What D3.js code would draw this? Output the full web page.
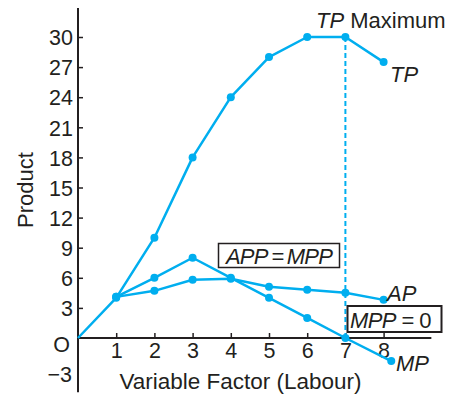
<!DOCTYPE html>
<html>
<head>
<meta charset="utf-8">
<script src="https://cdn.jsdelivr.net/npm/d3@7"></script>
<style>
  html, body { margin: 0; padding: 0; background: #fff; }
  svg { display: block; font-family: "Liberation Sans", Arial, Helvetica, sans-serif; }
</style>
</head>
<body>
<svg id="chart" width="458" height="394"></svg>
<script>
// ---- data ----
const labour = [0, 1, 2, 3, 4, 5, 6, 7, 8];
const tpValues = [0, 4, 10, 18, 24, 28, 30, 30, 27.5];
const apLabour = [1, 2, 3, 4, 5, 6, 7, 8];
const apValues = [4.1, 4.7, 5.8, 5.9, 5.1, 4.8, 4.5, 3.8];
const mpLabour = [1, 2, 3, 4, 5, 6, 7, 8.2];
const mpValues = [4.1, 6, 8, 6, 4, 2, 0, -2.3];
const yTickValues = [3, 6, 9, 12, 15, 18, 21, 24, 27, 30];
const xTickValues = [1, 2, 3, 4, 5, 6, 7, 8];

const blue = "#00aeef";
const ink = "#231f20";
const fs = 21.5;

const svg = d3.select("#chart");
const x = d3.scaleLinear().domain([0, 8]).range([78, 383.6]);
const y = d3.scaleLinear().domain([0, 30]).range([338, 37]);

// axes
const yAxis = d3.axisLeft(y).tickValues(yTickValues).tickSize(-5).tickPadding(7).tickFormat(d3.format("d"));
const gy = svg.append("g").attr("transform", `translate(${x(0)},0)`).call(yAxis);
gy.select(".domain").remove();
gy.selectAll("line").attr("stroke", ink).attr("stroke-width", 1.5);
gy.selectAll("text").attr("fill", ink).attr("font-size", fs).attr("dx", 2).attr("dy", "0.36em");

const xAxis = d3.axisBottom(x).tickValues(xTickValues).tickSize(-5).tickPadding(7);
const gx = svg.append("g").attr("transform", `translate(0,${y(0)})`).call(xAxis);
gx.select(".domain").remove();
gx.selectAll("line").attr("stroke", ink).attr("stroke-width", 1.5);
gx.selectAll("text").attr("fill", ink).attr("font-size", fs).attr("dy", "0.6em");

// axis lines
svg.append("line").attr("x1", x(0)).attr("x2", x(0)).attr("y1", y(32.9)).attr("y2", y(-5.4))
  .attr("stroke", ink).attr("stroke-width", 2);
svg.append("line").attr("x1", x(0)).attr("x2", x(9.25)).attr("y1", y(0)).attr("y2", y(0))
  .attr("stroke", ink).attr("stroke-width", 2);

// origin and -3 labels
svg.append("text").attr("x", x(0) - 8).attr("y", y(0) + 14).attr("text-anchor", "end")
  .attr("font-size", fs).attr("fill", ink).text("O");
svg.append("text").attr("x", x(0) - 6).attr("y", y(-3) + 14).attr("text-anchor", "end")
  .attr("font-size", fs).attr("fill", ink).text("\u22123");

// axis titles
svg.append("text").attr("transform", `translate(33,${190}) rotate(-90)`).attr("text-anchor", "middle")
  .attr("font-size", 22).attr("fill", ink).text("Product");
svg.append("text").attr("x", 240.5).attr("y", 389).attr("text-anchor", "middle")
  .attr("font-size", 22.5).attr("fill", ink).text("Variable Factor (Labour)");

// dashed line at TP maximum
svg.append("line").attr("x1", x(7)).attr("x2", x(7)).attr("y1", y(30)).attr("y2", y(0))
  .attr("stroke", blue).attr("stroke-width", 2).attr("stroke-dasharray", "5,3");

// series
const line = d3.line().x(d => x(d[0])).y(d => y(d[1]));
function drawSeries(xs, ys) {
  const pts = xs.map((v, i) => [v, ys[i]]);
  svg.append("path").datum(pts).attr("d", line).attr("fill", "none")
    .attr("stroke", blue).attr("stroke-width", 2.5).attr("stroke-linejoin", "round");
  svg.append("g").selectAll("circle").data(pts.filter(p => !(p[0] === 0 && p[1] === 0))).join("circle")
    .attr("cx", d => x(d[0])).attr("cy", d => y(d[1])).attr("r", 4).attr("fill", blue);
}
drawSeries(labour, tpValues);
drawSeries(apLabour, apValues);
drawSeries(mpLabour, mpValues);

// annotations
const t1 = svg.append("text").attr("x", 316).attr("y", 28).attr("font-size", 22).attr("fill", ink);
t1.append("tspan").attr("font-style", "italic").text("TP");
t1.append("tspan").text(" Maximum");

svg.append("text").attr("x", 390).attr("y", 82).attr("font-size", 22).attr("fill", ink)
  .attr("font-style", "italic").text("TP");
svg.append("text").attr("x", 387).attr("y", 301).attr("font-size", 22).attr("fill", ink)
  .attr("font-style", "italic").text("AP");
svg.append("text").attr("x", 396).attr("y", 371).attr("font-size", 22).attr("fill", ink)
  .attr("font-style", "italic").text("MP");

// APP = MPP box
svg.append("rect").attr("x", 218.5).attr("y", 243.5).attr("width", 121).attr("height", 24)
  .attr("fill", "#fff").attr("stroke", ink).attr("stroke-width", 1.5);
svg.append("text").attr("x", 279).attr("y", 264).attr("text-anchor", "middle").attr("font-size", 22)
  .attr("fill", ink).attr("font-style", "italic").attr("letter-spacing", -0.8).text("APP\u2009=\u2009MPP");

// MPP = 0 box
svg.append("rect").attr("x", 347.5).attr("y", 306).attr("width", 94).attr("height", 26)
  .attr("fill", "#fff").attr("stroke", ink).attr("stroke-width", 2);
const t2 = svg.append("text").attr("x", 350).attr("y", 327.5).attr("font-size", 22).attr("fill", ink)
  .attr("letter-spacing", -0.6);
t2.append("tspan").attr("font-style", "italic").text("MPP");
t2.append("tspan").text(" = 0");
</script>
</body>
</html>
